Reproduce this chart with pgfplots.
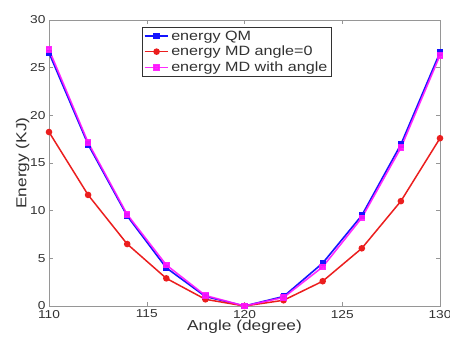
\documentclass[border=0pt]{standalone}
\usepackage{fontspec}
\setmainfont{Liberation Sans}[FakeStretch=1.2]
\usepackage{pgfplots}
\pgfplotsset{compat=1.18}
\usetikzlibrary{calc}
\definecolor{axgray}{RGB}{150,150,150}
\definecolor{txtgray}{RGB}{50,50,50}
\definecolor{qmblue}{RGB}{20,20,255}
\definecolor{mdred}{RGB}{235,30,30}
\definecolor{mdmag}{RGB}{255,20,255}
\pgfplotstableread{
x qm md0 mda
110 26.55 18.25 26.9
112 16.95 11.65 17.15
114 9.45 6.5 9.6
116 4.0 2.9 4.3
118 1.0 0.7 1.1
120 0.0 0.0 0.0
122 1.0 0.6 0.9
124 4.5 2.6 4.1
126 9.5 6.05 9.25
128 16.95 11.0 16.6
130 26.6 17.6 26.3
}\datatable
\begin{document}
\begin{tikzpicture}
\begin{axis}[
  scale only axis,
  width=391bp, height=286bp,
  xmin=110, xmax=130, ymin=0, ymax=30,
  xtick={110,115,120,125,130},
  ytick={0,5,10,15,20,25,30},
  tick align=inside,
  major tick length=4bp,
  axis line style={axgray, line width=0.6bp},
  every tick/.style={axgray, line width=0.5bp},
  tick label style={font=\fontsize{11.5}{13}\selectfont, text=txtgray},
  /pgf/number format/assume math mode=true,
  xticklabel style={yshift=-0.5bp},
  label style={font=\fontsize{14.5}{16}\selectfont, text=txtgray},
  xlabel={Angle (degree)},
  ylabel={Energy (KJ)},
  xlabel style={yshift=5bp},
  ylabel style={yshift=-6bp},
  legend cell align=left,
  legend style={at={(rel axis cs:0.238,0.976)}, anchor=north west,
    font=\fontsize{13.5}{15}\selectfont, draw=txtgray, line width=0.6bp,
    inner sep=1.5bp, row sep=0.5bp, text=txtgray},
  legend image code/.code={\draw[mark repeat=2,mark phase=2] plot coordinates {(0cm,0cm) (0.42cm,0cm) (0.84cm,0cm)};},
]
\addplot[qmblue, line width=1.6bp, mark=square*, mark size=2.3bp] table[x=x,y=qm] {\datatable};
\addlegendentry{energy QM}
\addplot[mdred, line width=1.5bp, mark=*, mark size=2.5bp] table[x=x,y=md0] {\datatable};
\addlegendentry{energy MD angle=0}
\addplot[mdmag, line width=1.6bp, mark=square*, mark size=2.5bp, opacity=0.9] table[x=x,y=mda] {\datatable};
\addlegendentry{energy MD with angle}
\end{axis}
\pgfresetboundingbox
\path ($(current axis.south west)+(-49bp,-34bp)$) rectangle ($(current axis.north east)+(10bp,20bp)$);
\end{tikzpicture}
\end{document}
